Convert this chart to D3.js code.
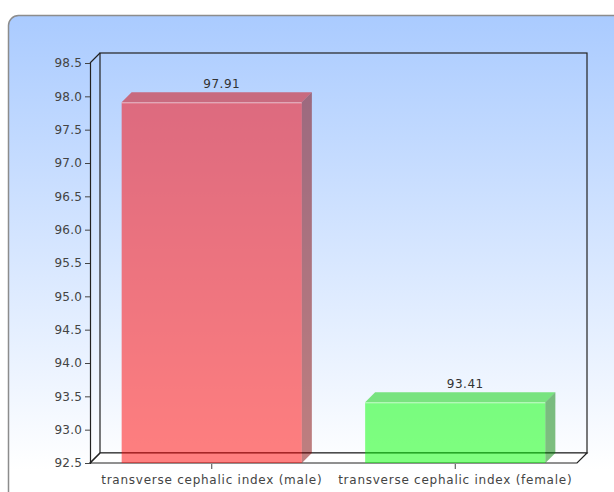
<!DOCTYPE html>
<html>
<head>
<meta charset="utf-8">
<script src="https://cdn.jsdelivr.net/npm/d3@7"></script>
<style>
  html, body { margin: 0; padding: 0; background: #fff; }
  svg { display: block; font-family: "DejaVu Sans", sans-serif; }
</style>
</head>
<body>
<div id="chart"></div>
<script>
// chart data
const categories = ['transverse cephalic index (male)', 'transverse cephalic index (female)'];
const values = [97.91, 93.41];
const valueLabels = ['97.91', '93.41'];
const yTicks = [92.5, 93.0, 93.5, 94.0, 94.5, 95.0, 95.5, 96.0, 96.5, 97.0, 97.5, 98.0, 98.5];
const frontColors = ['#ff0000', '#00ff00'];
const sideColors = ['#800000', '#008000'];
const topColors = ['#d80000', '#00d000'];

const W = 614, H = 492;
const plot = { left: 90, right: 577, top: 63, bottom: 463 };
const depth = 10;

const svg = d3.select('#chart').append('svg')
  .attr('width', W)
  .attr('height', H);

const defs = svg.append('defs');
const grad = defs.append('linearGradient')
  .attr('id', 'bg')
  .attr('gradientUnits', 'userSpaceOnUse')
  .attr('x1', 0).attr('y1', 15).attr('x2', 0).attr('y2', 470);
grad.append('stop').attr('offset', '0%').attr('stop-color', '#aacbff');
grad.append('stop').attr('offset', '100%').attr('stop-color', '#ffffff');

// panel, runs off the right and bottom edges
svg.append('rect')
  .attr('x', 8.5).attr('y', 15.5)
  .attr('width', 700).attr('height', 600)
  .attr('rx', 10).attr('ry', 10)
  .attr('fill', 'url(#bg)')
  .attr('stroke', '#8c8c8c')
  .attr('stroke-width', 1.5);

const y = d3.scaleLinear()
  .domain([d3.min(yTicks), d3.max(yTicks)])
  .range([plot.bottom, plot.top]);

const x = d3.scaleBand()
  .domain(categories)
  .range([plot.left, plot.right])
  .paddingInner(0.26)
  .paddingOuter(0.13);

// 3d walls
const walls = svg.append('g')
  .attr('fill', 'none')
  .attr('stroke', '#222')
  .attr('stroke-width', 1.2);

walls.append('rect')
  .attr('x', plot.left + depth).attr('y', plot.top - depth)
  .attr('width', plot.right - plot.left).attr('height', plot.bottom - plot.top);

walls.append('path')
  .attr('fill', '#fff')
  .attr('d', `M${plot.left},${plot.bottom} L${plot.left + depth},${plot.bottom - depth} L${plot.right + depth},${plot.bottom - depth} L${plot.right},${plot.bottom} Z`);

walls.append('path')
  .attr('d', `M${plot.left},${plot.top} L${plot.left + depth},${plot.top - depth} M${plot.left},${plot.bottom} L${plot.left + depth},${plot.bottom - depth}`);

// y axis
const yAxis = svg.append('g')
  .attr('transform', `translate(${plot.left},0)`)
  .call(d3.axisLeft(y).tickValues(yTicks).tickFormat(d3.format('.1f')).tickSize(5).tickPadding(3));
yAxis.select('.domain').attr('stroke', '#222').attr('stroke-width', 1.2);
yAxis.selectAll('.tick line').attr('stroke', '#444');
yAxis.selectAll('.tick text')
  .attr('fill', '#444')
  .style('font-size', '12px')
  .style('letter-spacing', '0.2px')
  .style('font-family', '"DejaVu Sans", sans-serif');

// x axis
const xAxis = svg.append('g')
  .attr('transform', `translate(0,${plot.bottom + 1})`)
  .call(d3.axisBottom(x).tickSizeOuter(0).tickSize(5).tickPadding(6));
xAxis.select('.domain').remove();
xAxis.selectAll('.tick line').attr('stroke', '#444');
xAxis.selectAll('.tick text')
  .attr('fill', '#444')
  .style('font-size', '12px')
  .style('letter-spacing', '0.75px')
  .style('font-family', '"DejaVu Sans", sans-serif');

// bars
const data = categories.map((c, i) => ({ c, v: values[i], i }));
const bars = svg.append('g').selectAll('g.bar')
  .data(data)
  .enter().append('g')
  .attr('class', 'bar');

bars.append('rect')
  .attr('x', d => x(d.c))
  .attr('y', d => y(d.v))
  .attr('width', x.bandwidth())
  .attr('height', d => plot.bottom - y(d.v))
  .attr('fill', d => frontColors[d.i])
  .attr('fill-opacity', 0.5);

bars.append('path')
  .attr('d', d => {
    const x0 = x(d.c), x1 = x0 + x.bandwidth(), yt = y(d.v);
    return `M${x0},${yt} L${x0 + depth},${yt - depth} L${x1 + depth},${yt - depth} L${x1},${yt} Z`;
  })
  .attr('fill', d => topColors[d.i])
  .attr('fill-opacity', 0.5);

bars.append('path')
  .attr('d', d => {
    const x1 = x(d.c) + x.bandwidth(), yt = y(d.v);
    return `M${x1},${yt} L${x1 + depth},${yt - depth} L${x1 + depth},${plot.bottom - depth} L${x1},${plot.bottom} Z`;
  })
  .attr('fill', d => sideColors[d.i])
  .attr('fill-opacity', 0.5);

bars.append('line')
  .attr('x1', d => x(d.c))
  .attr('x2', d => x(d.c) + x.bandwidth())
  .attr('y1', d => y(d.v) + 0.5)
  .attr('y2', d => y(d.v) + 0.5)
  .attr('stroke', '#fff')
  .attr('stroke-opacity', 0.5);

bars.append('text')
  .attr('x', d => x(d.c) + x.bandwidth() / 2 + depth)
  .attr('y', d => y(d.v) - depth - 4)
  .attr('text-anchor', 'middle')
  .attr('fill', '#333')
  .style('font-size', '12px')
  .style('letter-spacing', '0.5px')
  .text(d => valueLabels[d.i]);
</script>
</body>
</html>
